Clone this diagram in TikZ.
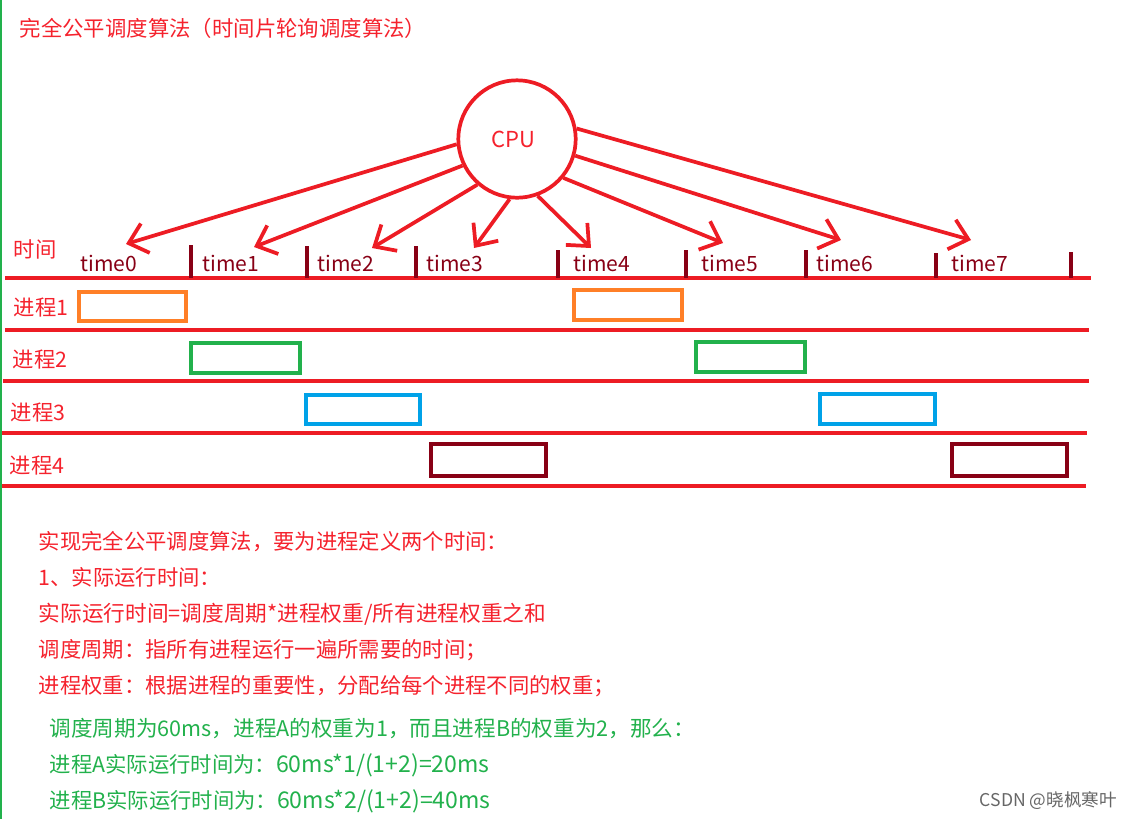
\documentclass[tikz,border=0pt]{standalone}
\usepackage{fontspec}
\setmainfont{Noto Sans CJK SC}
\usetikzlibrary{arrows.meta}
\definecolor{myred}{HTML}{ED1C24}
\definecolor{txtred}{HTML}{F5222D}
\definecolor{mygreen}{HTML}{22B14C}
\definecolor{myblue}{HTML}{00A2E8}
\definecolor{myorange}{HTML}{FF7F27}
\definecolor{mydark}{HTML}{880015}
\newcommand{\qcomma}{\char"FF0C\relax}
\newcommand{\qcolon}{\char"FF1A\relax}
\newcommand{\qsemi}{\char"FF1B\relax}
\newcommand{\qlp}{\char"FF08\relax}
\newcommand{\qrp}{\char"FF09\relax}
\newcommand{\qlat}[1]{{\fontsize{17.3}{18}\selectfont #1}}
\begin{document}
\begin{tikzpicture}[x=0.75pt,y=-0.75pt,line width=2.6pt,>={Straight Barb[length=13pt,width=23pt,line width=2.8pt]},
lab/.style={anchor=base west,inner sep=0pt,text=txtred,font=\fontsize{16}{18}\selectfont},
lab1/.style={lab,text=mygreen},
tim/.style={anchor=base west,inner sep=0pt,text=mydark,font=\fontsize{15.8}{18}\selectfont},
procbox/.style={draw=#1,line width=2.3pt,inner sep=0pt,outer sep=0pt}]
\useasboundingbox (0,0) rectangle (1130,819);
\coordinate (gt) at (1,0); \coordinate (gb) at (1,819);
\draw[color=mygreen,line width=1.8pt] (gt) -- (gb);
\node[lab,font=\fontsize{16.05}{18}\selectfont] (title) at (18,36) {完全公平调度算法\qlp 时间片轮询调度算法\qrp};
\node[circle,draw=myred,line width=2.8pt,minimum size=88pt,inner sep=0pt,text=txtred,font=\fontsize{16.5}{18}\selectfont] (cpu) at (517,139) {\hspace*{-6pt}CPU};
% rows
\foreach \i/\xa/\xb/\y in {0/5/1091/278,1/5/1089/330,2/3/1089/381,3/2/1087/433,4/2/1086/486}{\coordinate (l\i) at (\xa,\y); \coordinate (r\i) at (\xb,\y); \draw[color=myred] (l\i) -- (r\i);};
% ticks
\foreach \i/\x/\y in {1/191/245,2/307/246,3/416/246,4/558/250,5/686/250,6/806/250,7/936/253,8/1071/252}{\coordinate (tt\i) at (\x,\y); \coordinate (tb\i) at (\x,278); \draw[color=mydark] (tt\i) -- (tb\i);};
% time labels
\foreach \i/\x in {0/79,1/201,2/316,3/425,4/572,5/700,6/815,7/950}{\node[tim] (time\i) at (\x,271) {time\i};};
% arrows
\foreach \i/\a/\x/\y in {0/185/126/244,1/206/254/247,2/229/372/248,3/263/474/248,4/290/591/248,5/320/723/243,6/344/841/240,7/10/971/240}{\coordinate (a\i) at (\x,\y); \draw[color=myred,line width=2.8pt,->] (cpu.\a) -- (a\i);};
% boxes
\foreach \n/\x/\y/\w/\h/\c in {pa/132.5/306.5/109/31/myorange,pb/245.5/358/111/32/mygreen,pc/363/409.5/116/31/myblue,pd/488.5/460/117/34/mydark,pe/628/305/110/32/myorange,pf/750.5/357/111/32/mygreen,pg/877.5/409/117/32/myblue,ph/1009.5/460/117/34/mydark}{\node[procbox=\c,minimum width=(\w-2)*0.75pt,minimum height=(\h-2)*0.75pt] (\n) at (\x,\y) {};};
% row labels
\node[lab] (now) at (12,257) {时间};
\foreach \i/\x/\y in {1/12/315,2/11/367,3/9/420,4/8/473}{\node[lab] (proc\i) at (\x,\y) {进程\i};};
% text
\node[lab] (s1) at (37,549) {实现完全公平调度算法\qcomma 要为进程定义两个时间\qcolon};
\node[lab] (s2) at (37,585) {1、实际运行时间\qcolon};
\node[lab,font=\fontsize{16.25}{18}\selectfont] (s3) at (37,621) {实际运行时间=调度周期*进程权重/所有进程权重之和};
\node[lab] (s4) at (37,657) {调度周期\qcolon 指所有进程运行一遍所需要的时间\qsemi};
\node[lab] (s5) at (37,693) {进程权重\qcolon 根据进程的重要性\qcomma 分配给每个进程不同的权重\qsemi};
\node[lab1,font=\fontsize{16.2}{18}\selectfont] (g1) at (48,736) {调度周期为60ms\qcomma 进程A的权重为1\qcomma 而且进程B的权重为2\qcomma 那么\qcolon};
\node[lab1] (g2) at (48,772) {进程A实际运行时间为\qcolon \qlat{60ms*1/(1+2)=20ms}};
\node[lab1] (g3) at (48,808) {进程B实际运行时间为\qcolon \qlat{60ms*2/(1+2)=40ms}};
\node[anchor=base west,inner sep=0pt,text=black!60,font=\fontsize{13.2}{14}\selectfont] (mark) at (978,806) {CSDN @晓枫寒叶};
\end{tikzpicture}
\end{document}
